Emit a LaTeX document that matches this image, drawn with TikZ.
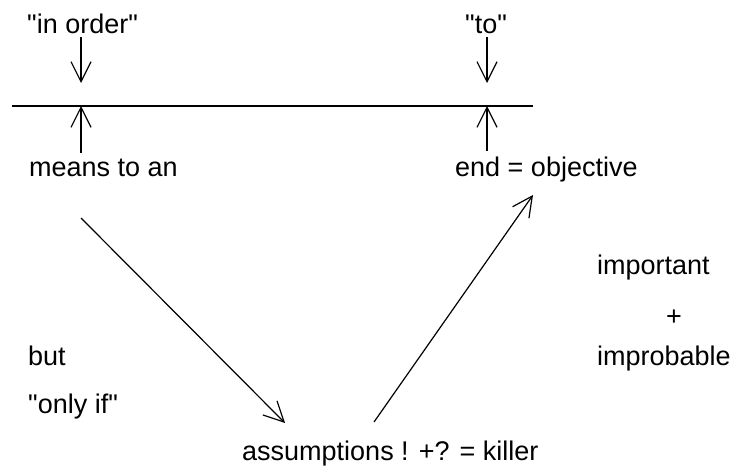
\documentclass[tikz,border=0pt]{standalone}
\usepackage{fontspec}
\setmainfont{Liberation Sans}[Ligatures=TeXOff]
\usetikzlibrary{arrows.meta}
\begin{document}
\begin{tikzpicture}[x=1pt,y=-1pt,
txt/.style={anchor=base west,inner sep=0pt,font=\fontsize{27}{32}\selectfont},
arr/.style={-{Straight Barb[length=20pt,width=20pt]},line width=1.2pt},
bar/.style={line width=1.2pt}]
\useasboundingbox (0,0) rectangle (735,466);
\node[txt] (inorder) at (27,33) {"in order"};
\node[txt] (to) at (465,33) {"to"};
\node[txt] (means) at (29,176) {means to an};
\node[txt] (objective) at (455,176) {end = objective};
\node[txt] (important) at (597,274) {important};
\node[txt] (plus) at (666,325) {+};
\node[txt] (improbable) at (597,365) {improbable};
\node[txt] (but) at (28,365) {but};
\node[txt] (onlyif) at (28,413) {"only if"};
\node[txt] (assume) at (242,460) {assumptions ! +? = killer};
\coordinate (barL) at (12,106);
\coordinate (barR) at (533,106);
\coordinate (hitL) at (81,106);
\coordinate (hitR) at (487,106);
\draw[bar] (barL)--(barR);
\draw[arr,shorten <=4pt,shorten >=23pt] (inorder.south -| hitL)--(hitL);
\draw[arr,shorten <=4pt,shorten >=23pt] (to.south -| hitR)--(hitR);
\draw[arr,shorten <=5pt] (means.north -| hitL)--(hitL);
\draw[arr,shorten <=5pt] (objective.north -| hitR)--(hitR);
% diagonals of the triangle
\coordinate (downA) at (81,218);
\coordinate (downB) at (285,423);
\coordinate (upA) at (374,422);
\coordinate (upB) at (533,195);
\draw[arr] (downA)--(downB);
\draw[arr] (upA)--(upB);
\end{tikzpicture}
\end{document}
